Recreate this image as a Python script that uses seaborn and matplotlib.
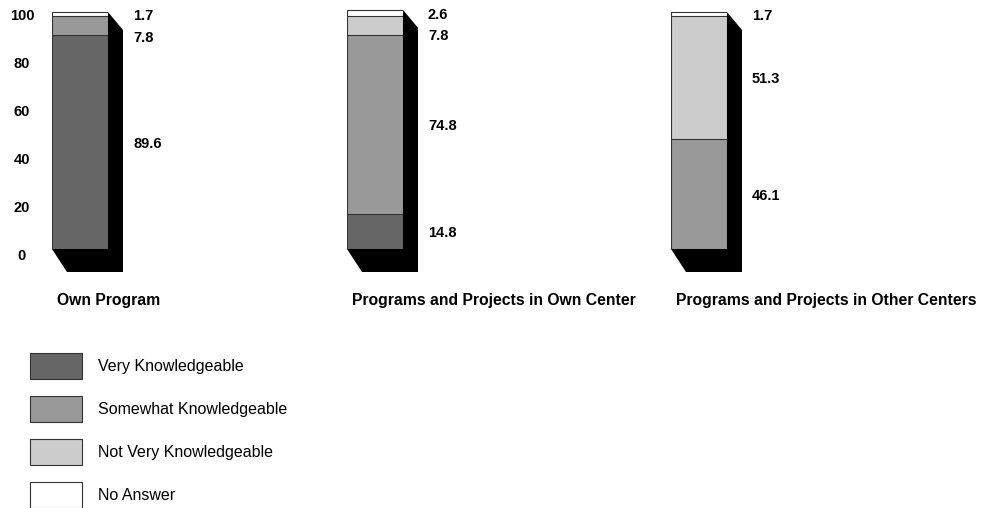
import pandas as pd
import seaborn as sns
import matplotlib.pyplot as plt
from matplotlib.patches import Polygon, Patch
from matplotlib.transforms import IdentityTransform, ScaledTranslation

# Data
categories = ["Own Program",
              "Programs and Projects in Own Center",
              "Programs and Projects in Other Centers"]
levels = ["Very Knowledgeable", "Somewhat Knowledgeable",
          "Not Very Knowledgeable", "No Answer"]
very = [89.6, 14.8, 0.0]
somewhat = [7.8, 74.8, 46.1]
not_very = [0.0, 7.8, 51.3]
no_answer = [1.7, 2.6, 1.7]
yticks = [0, 20, 40, 60, 80, 100]

colors = ["#666666", "#999999", "#cccccc", "#ffffff"]
edge = "#333333"

rows = []
for i, cat in enumerate(categories):
    for lev, vals in zip(levels, [very, somewhat, not_very, no_answer]):
        rows.append({"category": cat, "level": lev, "pct": vals[i]})
df = pd.DataFrame(rows)
df["cum"] = df.groupby("category")["pct"].cumsum()

sns.set_style("white")
plt.rcParams["font.family"] = ["Liberation Sans", "DejaVu Sans"]
plt.rcParams.update({"text.color": "black", "xtick.color": "black",
                     "ytick.color": "black", "axes.labelcolor": "black"})

W, H = 985, 508
fig = plt.figure(figsize=(W / 100, H / 100), dpi=100)

# layout (pixels)
bar_left = [52, 347, 671]
bar_w = 56
base_y = 249
px_per_unit = 237 / 99.1
ytop = base_y / px_per_unit

for i, cat in enumerate(categories):
    ax = fig.add_axes([bar_left[i] / W, (H - base_y) / H, bar_w / W, base_y / H])
    ax.patch.set_visible(False)
    sub = df[df["category"] == cat].reset_index(drop=True)

    # layered cumulative bars, top segment first
    for j in reversed(range(len(levels))):
        if sub.loc[j, "pct"] <= 0:
            continue
        sns.barplot(x=[cat], y=[sub.loc[j, "cum"]], color=colors[j], saturation=1,
                    edgecolor=edge, linewidth=0.8, width=0.8, ax=ax, zorder=2)

    ax.set_xlim(-0.4, 0.4)
    ax.set_ylim(0, ytop)
    ax.set_xlabel("")
    ax.set_ylabel("")
    ax.set_xticks([])
    sns.despine(ax=ax, left=True, bottom=True)

    # black extrusion behind the bar
    total = sub["pct"].sum()
    (x0, y0), (x1, y1) = ax.transData.transform([(-0.4, 0), (0.4, total)])
    shadow = Polygon([(x1, y1), (x1 + 15, y1 - 18), (x1 + 15, y0 - 23),
                      (x0 + 15, y0 - 23), (x0, y0)],
                     closed=True, facecolor="black", edgecolor="none",
                     transform=IdentityTransform(), clip_on=False, zorder=1)
    ax.add_patch(shadow)
    ax.set_xlim(-0.4, 0.4)
    ax.set_ylim(0, ytop)

    # value labels at segment middles, nudged apart when crowded
    mids = (sub["cum"] - sub["pct"] / 2).tolist()
    prev = None
    lab_off = ax.transData + ScaledTranslation(25 / 100, -2 / 100, fig.dpi_scale_trans)
    for j in reversed(range(len(levels))):
        v = sub.loc[j, "pct"]
        if v <= 0:
            continue
        y = mids[j] if prev is None else min(mids[j], prev - 9)
        prev = y
        ax.text(0.4, y, f"{v:.1f}", transform=lab_off, ha="left", va="center",
                fontsize=10.5, fontweight="bold", color="black")

    # category label under the bar
    cat_off = ax.transAxes + ScaledTranslation(5 / 100, -51 / 100, fig.dpi_scale_trans)
    ax.text(0, 0, cat, transform=cat_off, ha="left", va="center",
            fontsize=11.3, fontweight="bold", color="black")

    if i == 0:
        ax.set_yticks(yticks)
        ax.set_yticklabels([str(t) for t in yticks])
        ax.tick_params(axis="y", length=0, pad=21.6)
        shift = ScaledTranslation(0, -5 / 100, fig.dpi_scale_trans)
        for lab in ax.get_yticklabels():
            lab.set_horizontalalignment("center")
            lab.set_fontweight("bold")
            lab.set_fontsize(10.5)
            lab.set_transform(lab.get_transform() + shift)
    else:
        ax.set_yticks([])

handles = [Patch(facecolor=c, edgecolor=edge, linewidth=0.8, label=l)
           for c, l in zip(colors, levels)]
fig.legend(handles=handles, loc="upper left", bbox_to_anchor=(30 / W, 1 - 353 / H),
           frameon=False, fontsize=11.5, handlelength=3.26, handleheight=2.13,
           labelspacing=1.07, handletextpad=1.0, borderpad=0, borderaxespad=0)

fig.savefig("out.png", dpi=100)
